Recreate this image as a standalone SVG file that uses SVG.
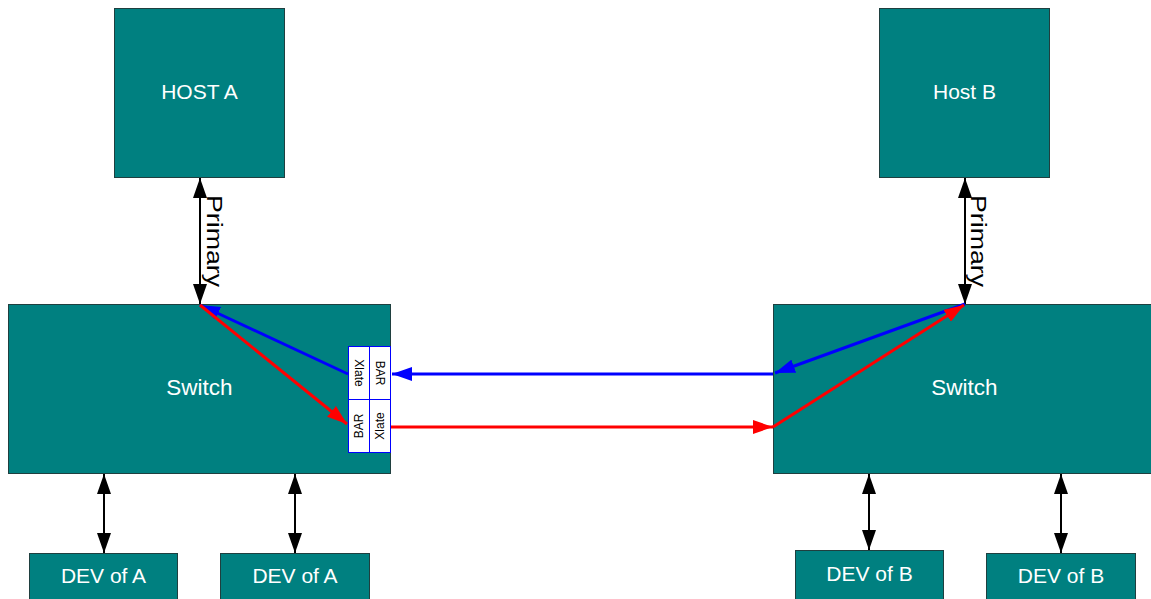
<svg xmlns="http://www.w3.org/2000/svg" width="1151" height="599" viewBox="0 0 1151 599">
<style>
.node{fill:#008080;stroke:#1f3f3f;stroke-width:1}
.lbl{fill:#ffffff;font-family:"Liberation Sans",Arial,sans-serif;font-size:21px;text-anchor:middle;dominant-baseline:central}
.sw{font-size:22.5px}
.cell{fill:#ffffff;stroke:#0000ff;stroke-width:1}
.ct{fill:#000000;font-family:"Liberation Sans",Arial,sans-serif;font-size:12px;text-anchor:middle;dominant-baseline:central}
.pri{fill:#000000;font-family:"Liberation Sans",Arial,sans-serif;font-size:22px;text-anchor:middle}
.blk{stroke:#000;stroke-width:2;fill:none;marker-start:url(#ab);marker-end:url(#ab)}
.blue{stroke:#0000ff;stroke-width:3;fill:none;marker-end:url(#abl)}
.red{stroke:#ff0000;stroke-width:3;fill:none;marker-end:url(#ar)}
</style>
<defs>
<marker id="ab" viewBox="0 0 20 14" refX="20" refY="7" markerWidth="20" markerHeight="14" markerUnits="userSpaceOnUse" orient="auto-start-reverse"><path d="M0,0 L20,7 L0,14 Z" fill="#000"/></marker>
<marker id="abl" viewBox="0 0 20 14" refX="20" refY="7" markerWidth="20" markerHeight="14" markerUnits="userSpaceOnUse" orient="auto"><path d="M0,0 L20,7 L0,14 Z" fill="#0000ff"/></marker>
<marker id="ar" viewBox="0 0 20 14" refX="20" refY="7" markerWidth="20" markerHeight="14" markerUnits="userSpaceOnUse" orient="auto"><path d="M0,0 L20,7 L0,14 Z" fill="#ff0000"/></marker>
</defs>
<rect width="1151" height="599" fill="#ffffff"/>
<g id="hostA"><rect class="node" x="114.5" y="8.5" width="170" height="169"/><text class="lbl" x="199.5" y="91">HOST A</text></g>
<g id="hostB"><rect class="node" x="879.5" y="8.5" width="170" height="169"/><text class="lbl" x="964.5" y="91">Host B</text></g>
<g id="switchA"><rect class="node" x="8.5" y="304.5" width="382" height="169"/><text class="lbl sw" x="199.5" y="387">Switch</text></g>
<g id="switchB"><rect class="node" x="773.5" y="304.5" width="380" height="169"/><text class="lbl sw" x="964.5" y="387">Switch</text></g>
<g id="devA1"><rect class="node" x="29.5" y="553.5" width="148" height="50"/><text class="lbl" x="103.5" y="575">DEV of A</text></g>
<g id="devA2"><rect class="node" x="220.5" y="553.5" width="149" height="50"/><text class="lbl" x="295" y="575">DEV of A</text></g>
<g id="devB1"><rect class="node" x="795.5" y="550.5" width="148" height="52"/><text class="lbl" x="869.5" y="573">DEV of B</text></g>
<g id="devB2"><rect class="node" x="986.5" y="553.5" width="149" height="50"/><text class="lbl" x="1061" y="575">DEV of B</text></g>
<g id="xlate">
<rect class="cell" x="348.5" y="346.5" width="21" height="53"/>
<rect class="cell" x="369.5" y="346.5" width="21" height="53"/>
<rect class="cell" x="348.5" y="399.5" width="21" height="53"/>
<rect class="cell" x="369.5" y="399.5" width="21" height="53"/>
<text class="ct" transform="translate(359,373) rotate(90)">Xlate</text>
<text class="ct" transform="translate(380,373) rotate(90)">BAR</text>
<text class="ct" transform="translate(359,426) rotate(-90)">BAR</text>
<text class="ct" transform="translate(380,426) rotate(-90)">Xlate</text>
</g>
<g id="connectors">
<line class="blk" x1="200" y1="178" x2="200" y2="304"/>
<line class="blk" x1="965" y1="178" x2="965" y2="304"/>
<line class="blk" x1="104" y1="474" x2="104" y2="553"/>
<line class="blk" x1="295" y1="474" x2="295" y2="553"/>
<line class="blk" x1="869" y1="474" x2="869" y2="550"/>
<line class="blk" x1="1061" y1="474" x2="1061" y2="553"/>
<line class="blue" x1="773" y1="374" x2="392" y2="374"/>
<line class="blue" x1="965" y1="304" x2="775" y2="373"/>
<line class="blue" x1="348" y1="374" x2="200" y2="305"/>
<line class="red" x1="200" y1="305" x2="347" y2="424"/>
<line class="red" x1="391" y1="427" x2="773" y2="427"/>
<line class="red" x1="773" y1="427" x2="964" y2="305"/>
<text class="pri" transform="translate(207,241) rotate(90)" textLength="92" lengthAdjust="spacingAndGlyphs">Primary</text>
<text class="pri" transform="translate(971,241) rotate(90)" textLength="92" lengthAdjust="spacingAndGlyphs">Primary</text>
</g>
</svg>
